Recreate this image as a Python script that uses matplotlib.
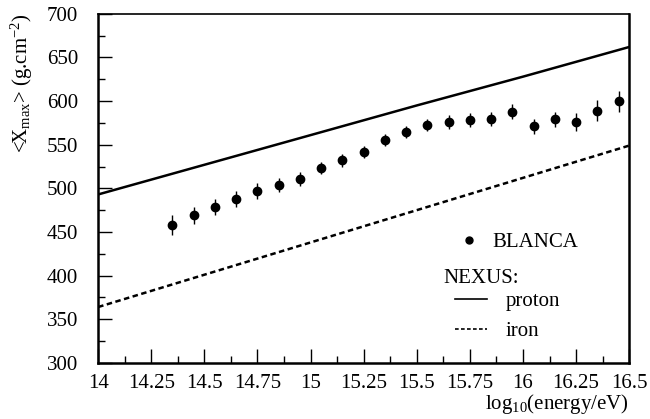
import numpy as np
import matplotlib
matplotlib.use('Agg')
import matplotlib.pyplot as plt
from matplotlib.ticker import MultipleLocator

plt.rcParams['font.family'] = ['Liberation Serif', 'DejaVu Serif']
plt.rcParams['mathtext.fontset'] = 'custom'
plt.rcParams['mathtext.rm'] = 'Liberation Serif'
plt.rcParams['mathtext.it'] = 'Liberation Serif'

# BLANCA data
energy = [14.35, 14.45, 14.55, 14.65, 14.75, 14.85, 14.95, 15.05, 15.15, 15.25, 15.35,
          15.45, 15.55, 15.65, 15.75, 15.85, 15.95, 16.05, 16.15, 16.25, 16.35, 16.45]
xmax = [458, 469, 479, 488, 497, 504, 511, 523, 532, 542, 555,
        565, 573, 576, 578, 579, 588, 571, 579, 576, 589, 600]
xmax_err = [12, 10, 9, 9, 9, 8, 8, 7, 7, 7, 7,
            7, 7, 8, 8, 8, 9, 9, 9, 10, 12, 12]

# NEXUS predictions
nexus_e = [14.0, 14.5, 15.0, 15.5, 16.0, 16.5]
proton = [493, 527, 561, 595, 628, 662]
iron = [364, 401, 438, 475, 512, 549]

fs = 15
fig = plt.figure(figsize=(6.5, 4.19), dpi=100)
ax = fig.add_axes([0.151, 0.134, 0.817, 0.833])

ax.errorbar(energy, xmax, yerr=xmax_err, fmt='o', color='black', ms=6,
            elinewidth=1, capsize=0)
l1, = ax.plot(nexus_e, proton, '-', color='black', lw=1.8)
l2, = ax.plot(nexus_e, iron, color='black', lw=1.8, linestyle=(0, (2.2, 1.4)))

ax.set_xlim(14, 16.5)
ax.set_ylim(300, 700)
ax.xaxis.set_major_locator(MultipleLocator(0.25))
ax.xaxis.set_minor_locator(MultipleLocator(0.125))
ax.yaxis.set_major_locator(MultipleLocator(50))
ax.yaxis.set_minor_locator(MultipleLocator(25))
ax.xaxis.set_major_formatter(plt.FuncFormatter(lambda v, p: '%g' % v))

ax.tick_params(which='both', direction='in', top=False, right=False, labelsize=fs)
ax.tick_params(which='major', length=10, width=1)
ax.tick_params(which='minor', length=5, width=1)
ax.tick_params(axis='x', pad=8)
ax.tick_params(axis='y', pad=14.5)
for s in ['left', 'bottom', 'right']:
    ax.spines[s].set_linewidth(1.8)
ax.spines['top'].set_linewidth(1.2)

ax.set_ylabel(r'<X$_{\rm max}$> (g.cm$^{-2}$)', fontsize=fs, loc='top')
ax.yaxis.set_label_coords(-0.118, 1.0)
ax.set_xlabel(r'log$_{10}$(energy/eV)', fontsize=fs, loc='right', labelpad=-1)

# legends
h, = ax.plot([], [], 'o', color='black', ms=5)
leg1 = ax.legend([h], ['BLANCA'], loc='center left', bbox_to_anchor=(0.679, 0.345),
                 frameon=False, fontsize=fs, handlelength=1.0, handletextpad=0.6,
                 borderpad=0, borderaxespad=0)
ax.add_artist(leg1)
ax.text(0.65, 0.243, 'NEXUS:', transform=ax.transAxes, fontsize=fs, va='center')
leg2 = ax.legend([l1, l2], ['proton', 'iron'], loc='upper left',
                 bbox_to_anchor=(0.672, 0.205), frameon=False, fontsize=fs,
                 handlelength=1.55, labelspacing=0.5, handletextpad=0.9,
                 borderpad=0, borderaxespad=0)
for ln in leg2.get_lines():
    ln.set_linewidth(1.2)

fig.savefig('out.png', dpi=100)
